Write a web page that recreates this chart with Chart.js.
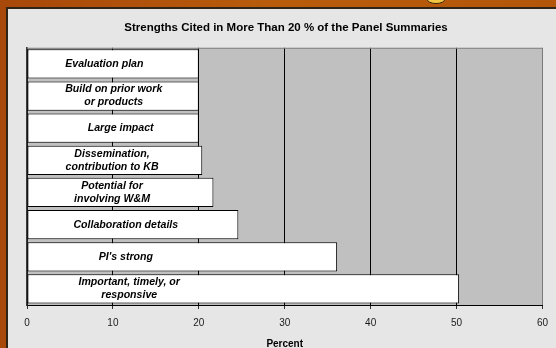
<!DOCTYPE html>
<html>
<head>
<meta charset="utf-8">
<script src="https://cdn.jsdelivr.net/npm/chart.js@4/dist/chart.umd.min.js"></script>
<style>
  html, body { margin: 0; padding: 0; background: #b4560c; }
  canvas { display: block; }
</style>
</head>
<body>
<canvas id="strengths-chart" width="556" height="348"></canvas>
<script>
'use strict';

// data
var categories = [
  ['Evaluation plan'],
  ['Build on prior work', 'or products'],
  ['Large impact'],
  ['Dissemination,', 'contribution to KB'],
  ['Potential for', 'involving W&M'],
  ['Collaboration details'],
  ["PI's strong"],
  ['Important, timely, or', 'responsive']
];
var percentValues = [20, 20, 20, 20.4, 21.7, 24.6, 36.1, 50.3];
var tickValues = [0, 10, 20, 30, 40, 50, 60];

var chartTitle = 'Strengths Cited in More Than 20 % of the Panel Summaries';
var axisTitle = 'Percent';

// where the text inside each bar is centred (in percent units)
var labelCenters = [9.0, 10.1, 10.9, 9.9, 9.9, 11.5, 11.5, 11.9];

// slide background, orange frame and grey plot area
var backdrop = {
  id: 'backdrop',
  beforeDraw: function(chart) {
    var ctx = chart.ctx;
    var area = chart.chartArea;
    ctx.save();
    var grad = ctx.createLinearGradient(0, 0, 556, 0);
    grad.addColorStop(0, '#a8480a');
    grad.addColorStop(0.5, '#b85c0c');
    grad.addColorStop(1, '#b4560a');
    ctx.fillStyle = grad;
    ctx.fillRect(0, 0, 556, 348);

    // bottom of a yellow letter from the slide heading
    ctx.fillStyle = '#f2c640';
    ctx.beginPath();
    ctx.ellipse(436, -1, 9, 4.5, 0, 0, Math.PI * 2);
    ctx.fill();
    ctx.strokeStyle = '#3a2408';
    ctx.lineWidth = 1;
    ctx.stroke();

    ctx.fillStyle = '#2e2418';
    ctx.fillRect(6, 7, 550, 341);
    ctx.fillStyle = '#e6e6e6';
    ctx.fillRect(8, 9, 548, 339);

    ctx.fillStyle = '#c0c0c0';
    ctx.fillRect(area.left, area.top, area.right - area.left, area.bottom - area.top);
    ctx.restore();
  },
  afterDraw: function(chart) {
    var ctx = chart.ctx;
    var area = chart.chartArea;
    ctx.save();
    ctx.strokeStyle = '#808080';
    ctx.lineWidth = 1;
    ctx.beginPath();
    ctx.moveTo(area.left, area.top + 0.5);
    ctx.lineTo(area.right, area.top + 0.5);
    ctx.stroke();
    ctx.restore();
  }
};

// text written inside the bars
var barText = {
  id: 'barText',
  afterDatasetsDraw: function(chart) {
    var ctx = chart.ctx;
    var xScale = chart.scales.x;
    var meta = chart.getDatasetMeta(0);
    ctx.save();
    ctx.font = 'italic bold 10.6px "Liberation Sans", Arial, sans-serif';
    ctx.fillStyle = '#000';
    ctx.textAlign = 'center';
    ctx.textBaseline = 'middle';
    meta.data.forEach(function(bar, i) {
      var lines = categories[i];
      var x = xScale.getPixelForValue(labelCenters[i]);
      var lineH = 13;
      var y0 = bar.y - (lines.length - 1) * lineH / 2;
      lines.forEach(function(line, j) {
        ctx.fillText(line, x, y0 + j * lineH);
      });
    });
    ctx.restore();
  }
};

var ctx = document.getElementById('strengths-chart').getContext('2d');

var chart = new Chart(ctx, {
  type: 'bar',
  data: {
    labels: categories.map(function(c) { return c.join(' '); }),
    datasets: [{
      data: percentValues,
      backgroundColor: '#ffffff',
      borderColor: '#000000',
      borderWidth: 1,
      borderSkipped: false,
      barPercentage: 0.91,
      categoryPercentage: 1
    }]
  },
  options: {
    indexAxis: 'y',
    responsive: false,
    animation: false,
    layout: { padding: { left: 27, right: 11, top: 0, bottom: 0 } },
    plugins: {
      legend: { display: false },
      tooltip: { enabled: false },
      title: {
        display: true,
        text: chartTitle,
        color: '#000',
        font: { family: '"Liberation Sans", Arial, sans-serif', size: 11.5, weight: 'bold' },
        padding: { top: 21, bottom: 13 }
      }
    },
    scales: {
      x: {
        min: 0,
        max: 60,
        afterBuildTicks: function(scale) {
          scale.ticks = tickValues.map(function(v) { return { value: v }; });
        },
        afterFit: function(scale) { scale.height = 43; },
        grid: {
          color: function(c) {
            return c.tick && c.tick.value === 60 ? '#7a7a7a' : '#000000';
          },
          lineWidth: 1,
          drawTicks: true,
          tickLength: 4,
          tickColor: '#333333'
        },
        border: { display: true, color: '#000000', width: 1 },
        ticks: {
          color: '#1a1a1a',
          padding: 8,
          font: { family: '"Liberation Sans", Arial, sans-serif', size: 10 }
        },
        title: {
          display: true,
          text: axisTitle,
          color: '#000',
          font: { family: '"Liberation Sans", Arial, sans-serif', size: 10, weight: 'bold' },
          padding: { top: 9, bottom: -2 }
        }
      },
      y: {
        afterFit: function(scale) { scale.width = 0; },
        ticks: { display: false },
        grid: { display: false },
        border: { display: true, color: '#3a3a3a', width: 1.5 }
      }
    }
  },
  plugins: [backdrop, barText]
});
</script>
</body>
</html>
